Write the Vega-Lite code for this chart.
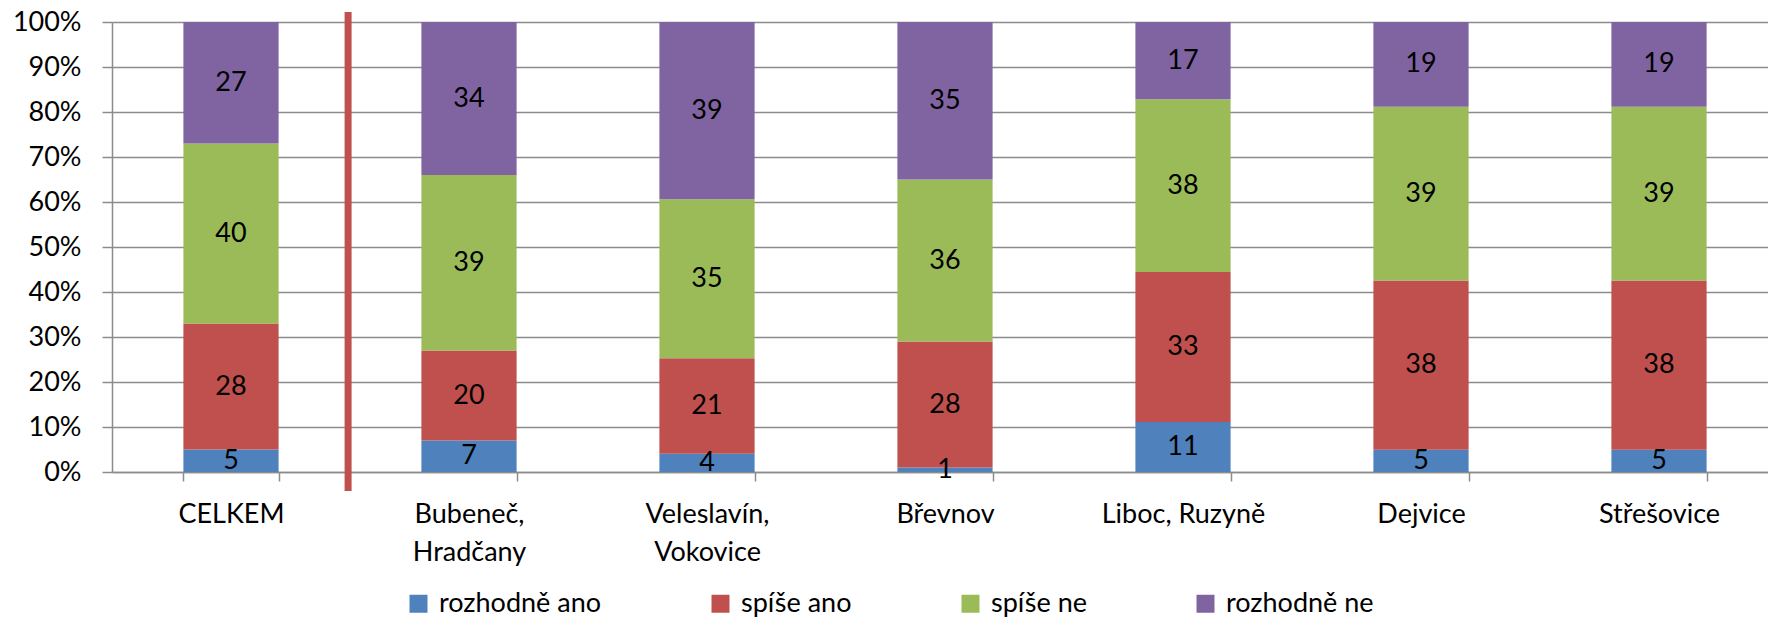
{
  "$schema": "https://vega.github.io/schema/vega-lite/v6.json",
  "width": 1656,
  "height": 450,
  "autosize": {"type": "none"},
  "padding": {"left": 112, "top": 22, "right": 0, "bottom": 146},
  "background": "white",
  "config": {
    "view": {"stroke": null},
    "font": "Lato",
    "axis": {"labelFont": "Lato", "labelFontSize": 27, "labelColor": "black", "domainColor": "#8c8c8c", "tickColor": "#8c8c8c", "gridColor": "#8c8c8c", "domainWidth": 1.5, "tickWidth": 1.5, "gridWidth": 1.5, "title": null}
  },
  "datasets": {
    "survey": [
      {"district": "CELKEM", "answer": "rozhodně ano", "rank": 1, "value": 5},
      {"district": "CELKEM", "answer": "spíše ano", "rank": 2, "value": 28},
      {"district": "CELKEM", "answer": "spíše ne", "rank": 3, "value": 40},
      {"district": "CELKEM", "answer": "rozhodně ne", "rank": 4, "value": 27},
      {"district": "Bubeneč, Hradčany", "answer": "rozhodně ano", "rank": 1, "value": 7},
      {"district": "Bubeneč, Hradčany", "answer": "spíše ano", "rank": 2, "value": 20},
      {"district": "Bubeneč, Hradčany", "answer": "spíše ne", "rank": 3, "value": 39},
      {"district": "Bubeneč, Hradčany", "answer": "rozhodně ne", "rank": 4, "value": 34},
      {"district": "Veleslavín, Vokovice", "answer": "rozhodně ano", "rank": 1, "value": 4},
      {"district": "Veleslavín, Vokovice", "answer": "spíše ano", "rank": 2, "value": 21},
      {"district": "Veleslavín, Vokovice", "answer": "spíše ne", "rank": 3, "value": 35},
      {"district": "Veleslavín, Vokovice", "answer": "rozhodně ne", "rank": 4, "value": 39},
      {"district": "Břevnov", "answer": "rozhodně ano", "rank": 1, "value": 1},
      {"district": "Břevnov", "answer": "spíše ano", "rank": 2, "value": 28},
      {"district": "Břevnov", "answer": "spíše ne", "rank": 3, "value": 36},
      {"district": "Břevnov", "answer": "rozhodně ne", "rank": 4, "value": 35},
      {"district": "Liboc, Ruzyně", "answer": "rozhodně ano", "rank": 1, "value": 11},
      {"district": "Liboc, Ruzyně", "answer": "spíše ano", "rank": 2, "value": 33},
      {"district": "Liboc, Ruzyně", "answer": "spíše ne", "rank": 3, "value": 38},
      {"district": "Liboc, Ruzyně", "answer": "rozhodně ne", "rank": 4, "value": 17},
      {"district": "Dejvice", "answer": "rozhodně ano", "rank": 1, "value": 5},
      {"district": "Dejvice", "answer": "spíše ano", "rank": 2, "value": 38},
      {"district": "Dejvice", "answer": "spíše ne", "rank": 3, "value": 39},
      {"district": "Dejvice", "answer": "rozhodně ne", "rank": 4, "value": 19},
      {"district": "Střešovice", "answer": "rozhodně ano", "rank": 1, "value": 5},
      {"district": "Střešovice", "answer": "spíše ano", "rank": 2, "value": 38},
      {"district": "Střešovice", "answer": "spíše ne", "rank": 3, "value": 39},
      {"district": "Střešovice", "answer": "rozhodně ne", "rank": 4, "value": 19}
    ],
    "divider": [
      {"district": "CELKEM", "top": 1.022, "bottom": -0.042}
    ]
  },
  "encoding": {
    "x": {
      "field": "district",
      "type": "nominal",
      "sort": null,
      "scale": {
        "domain": ["CELKEM", "Bubeneč, Hradčany", "Veleslavín, Vokovice", "Břevnov", "Liboc, Ruzyně", "Dejvice", "Střešovice"],
        "range": [0, 1666],
        "paddingInner": 0.6,
        "paddingOuter": 0.3
      },
      "axis": {
        "labelAngle": 0,
        "tickBand": "extent",
        "tickSize": 9,
        "labelPadding": 20,
        "labelLineHeight": 38,
        "labelBaseline": "top",
        "labelExpr": "datum.label == 'Liboc, Ruzyně' ? datum.label : split(datum.label, ' ')",
        "grid": false
      }
    }
  },
  "layer": [
    {
      "data": {"name": "survey"},
      "transform": [
        {"stack": "value", "groupby": ["district"], "sort": [{"field": "rank", "order": "ascending"}], "offset": "normalize", "as": ["v0", "v1"]},
        {"calculate": "(datum.v0 + datum.v1) / 2", "as": "mid"}
      ],
      "layer": [
        {
          "mark": {"type": "bar"},
          "encoding": {
            "y": {
              "field": "v0",
              "type": "quantitative",
              "scale": {"domain": [0, 1], "nice": false, "zero": false},
              "axis": {"values": [0, 0.1, 0.2, 0.3, 0.4, 0.5, 0.6, 0.7, 0.8, 0.9, 1], "format": ".0%", "grid": true, "tickSize": 10, "labelPadding": 21}
            },
            "y2": {"field": "v1"},
            "color": {
              "field": "answer",
              "type": "nominal",
              "scale": {"domain": ["rozhodně ano", "spíše ano", "spíše ne", "rozhodně ne"], "range": ["#4F81BD", "#C0504D", "#9BBB59", "#8064A2"]},
              "legend": {
                "orient": "none",
                "legendX": 293,
                "legendY": 568,
                "direction": "horizontal",
                "title": null,
                "symbolType": "square",
                "symbolSize": 324,
                "symbolStrokeWidth": 0,
                "symbolOpacity": 1,
                "labelFont": "Lato",
                "labelFontSize": 27,
                "labelColor": "black",
                "labelLimit": 0,
                "labelOffset": 7,
                "columnPadding": 105,
                "padding": 0
              }
            }
          }
        },
        {
          "mark": {"type": "text", "font": "Lato", "fontSize": 27, "color": "black", "baseline": "middle", "align": "center"},
          "encoding": {
            "y": {"field": "mid", "type": "quantitative"},
            "text": {"field": "value", "type": "quantitative"}
          }
        }
      ]
    },
    {
      "data": {"name": "divider"},
      "mark": {"type": "rule", "color": "#C0504D", "strokeWidth": 7},
      "encoding": {
        "x": {"field": "district", "type": "nominal", "bandPosition": 1.73},
        "y": {"field": "top", "type": "quantitative"},
        "y2": {"field": "bottom"}
      }
    }
  ]
}
